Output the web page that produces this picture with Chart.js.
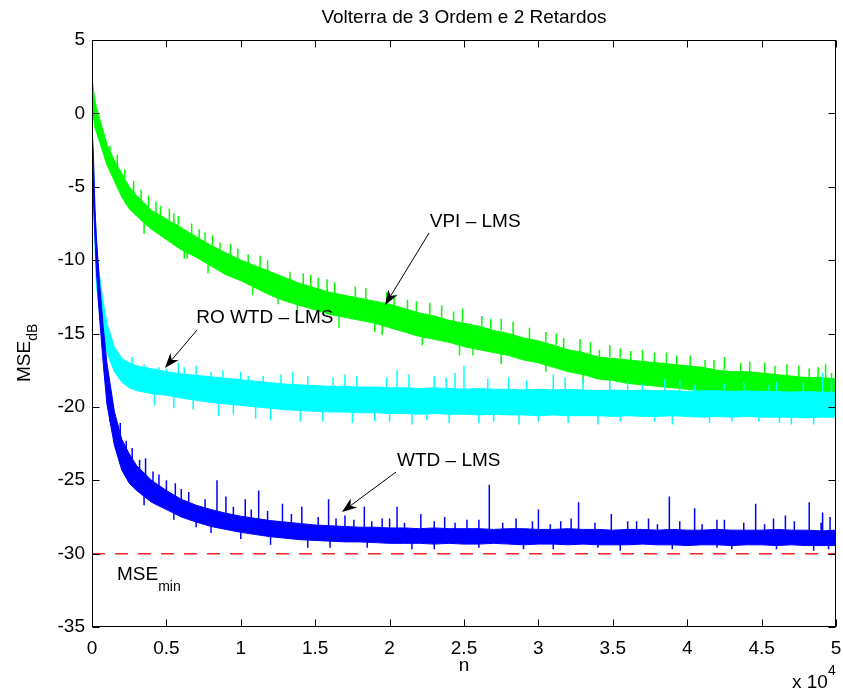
<!DOCTYPE html>
<html>
<head>
<meta charset="utf-8">
<script src="https://cdn.jsdelivr.net/npm/chart.js@4.4.1/dist/chart.umd.min.js"></script>
<style>
  html, body { margin: 0; padding: 0; background: #fff; }
  canvas { display: block; }
</style>
</head>
<body>
<canvas id="grafico" width="843" height="691"></canvas>
<script>
// n en unidades de 10^4
const nGrid = [
  0, 0.01, 0.02, 0.03, 0.05, 0.075, 0.1, 0.15, 0.2, 0.25,
  0.3, 0.4, 0.5, 0.6, 0.7, 0.8, 0.9, 1.0, 1.1, 1.2,
  1.3, 1.4, 1.5, 1.6, 1.7, 1.8, 1.9, 2.0, 2.1, 2.2,
  2.3, 2.4, 2.5, 2.6, 2.7, 2.8, 2.9, 3.0, 3.1, 3.2,
  3.3, 3.4, 3.5, 3.6, 3.7, 3.8, 3.9, 4.0, 4.1, 4.2,
  4.3, 4.4, 4.5, 4.6, 4.7, 4.8, 4.9, 5.0
];

// VPI - LMS (verde): borde superior / inferior del ruido
const greenHi = [
  2.4, 1.6, 0.9, 0.4, -0.3, -1.2, -2.1, -3.2, -4.1, -5.0,
  -5.6, -6.6, -7.2, -7.8, -8.4, -9.0, -9.5, -10.0, -10.4, -10.8,
  -11.2, -11.6, -11.9, -12.2, -12.4, -12.6, -12.8, -13.0, -13.3, -13.6,
  -13.8, -14.1, -14.3, -14.5, -14.8, -15.0, -15.3, -15.5, -15.8, -16.1,
  -16.3, -16.6, -16.7, -16.8, -16.9, -17.0, -17.1, -17.2, -17.3, -17.5,
  -17.6, -17.6, -17.7, -17.8, -17.9, -18.0, -18.0, -18.1
];
const greenLo = [
  0.5, -0.3, -1.0, -1.3, -1.9, -2.7, -3.5, -4.6, -5.7, -6.5,
  -7.0, -7.9, -8.6, -9.3, -9.8, -10.4, -11.0, -11.4, -11.9, -12.4,
  -12.8, -13.1, -13.4, -13.7, -13.9, -14.1, -14.3, -14.6, -14.9, -15.2,
  -15.4, -15.6, -15.9, -16.1, -16.3, -16.5, -16.8, -17.0, -17.3, -17.6,
  -17.8, -18.1, -18.2, -18.4, -18.5, -18.6, -18.7, -18.8, -18.9, -19.0,
  -19.1, -19.1, -19.2, -19.2, -19.3, -19.3, -19.4, -19.4
];

// RO WTD - LMS (cian)
const cyanHi = [
  -1.2, -3.5, -6.5, -9.3, -11.0, -12.8, -14.3, -15.9, -16.7, -17.0,
  -17.2, -17.4, -17.6, -17.75, -17.85, -17.95, -18.05, -18.15, -18.25, -18.35,
  -18.45, -18.5, -18.55, -18.6, -18.6, -18.65, -18.65, -18.7, -18.7, -18.75,
  -18.7, -18.75, -18.8, -18.75, -18.8, -18.8, -18.85, -18.8, -18.85, -18.8,
  -18.85, -18.9, -18.85, -18.9, -18.85, -18.9, -18.9, -18.95, -18.9, -18.9,
  -18.95, -18.9, -18.95, -18.95, -19.0, -18.95, -19.0, -19.0
];
const cyanLo = [
  -3.0, -6.0, -9.0, -11.8, -13.5, -15.2, -16.3, -17.6, -18.3, -18.7,
  -18.9, -19.1, -19.2, -19.4, -19.55, -19.7, -19.8, -19.9, -20.0, -20.1,
  -20.2, -20.25, -20.3, -20.35, -20.35, -20.4, -20.4, -20.45, -20.45, -20.5,
  -20.45, -20.5, -20.5, -20.55, -20.5, -20.55, -20.55, -20.6, -20.55, -20.6,
  -20.6, -20.6, -20.65, -20.6, -20.65, -20.65, -20.6, -20.65, -20.7, -20.65,
  -20.7, -20.65, -20.7, -20.7, -20.7, -20.75, -20.7, -20.7
];

// WTD - LMS (azul)
const blueHi = [
  -0.9, -3.0, -6.5, -8.5, -11.5, -14.5, -17.0, -20.3, -22.2, -23.2,
  -24.0, -25.0, -25.7, -26.3, -26.7, -27.0, -27.25, -27.45, -27.6, -27.75,
  -27.85, -27.95, -28.05, -28.1, -28.15, -28.2, -28.2, -28.25, -28.25, -28.3,
  -28.25, -28.3, -28.3, -28.3, -28.35, -28.3, -28.3, -28.35, -28.35, -28.3,
  -28.35, -28.35, -28.4, -28.35, -28.35, -28.4, -28.35, -28.4, -28.4, -28.35,
  -28.4, -28.4, -28.4, -28.35, -28.4, -28.4, -28.45, -28.4
];
const blueLo = [
  -3.0, -6.0, -8.5, -10.8, -13.8, -17.0, -19.8, -22.6, -24.3, -25.2,
  -25.7, -26.5, -27.0, -27.5, -27.85, -28.15, -28.35, -28.55, -28.7, -28.85,
  -28.95, -29.05, -29.1, -29.15, -29.2, -29.2, -29.25, -29.3, -29.3, -29.3,
  -29.35, -29.3, -29.35, -29.35, -29.3, -29.35, -29.4, -29.35, -29.35, -29.4,
  -29.35, -29.4, -29.4, -29.4, -29.35, -29.4, -29.4, -29.45, -29.4, -29.4,
  -29.45, -29.4, -29.4, -29.45, -29.4, -29.45, -29.45, -29.45
];

// picos sueltos del ruido (n, desde, hasta)
const greenSpikeN = [
  0.17, 0.33, 0.46, 0.55, 0.64, 0.72, 0.86, 1.05, 1.25, 1.33, 1.52, 1.77, 1.9, 2.12, 2.43, 2.56, 2.68, 2.94, 3.17, 3.41, 3.62, 3.93, 4.12, 4.36, 4.59, 4.82, 4.97,
  0.08, 0.12, 0.22, 0.28, 0.38, 0.43, 0.52, 0.58, 0.67, 0.76, 0.81, 0.93, 0.98, 1.13, 1.18, 1.42, 1.47, 1.58, 1.63, 1.84, 1.98, 2.03, 2.18, 2.27, 2.35, 2.49, 2.62, 2.75, 2.83, 3.05, 3.12, 3.28, 3.35, 3.48, 3.55, 3.7, 3.78, 3.86, 4.02, 4.18, 4.25, 4.42, 4.52, 4.67, 4.75, 4.88, 4.93,
  0.35, 0.62, 0.78, 1.08, 1.38, 1.66, 1.95, 2.22, 2.47, 2.75, 3.05, 3.3
];
const greenSpikeLo = [
  -4.8, -6.4, -7.4, -8.0, -9.9, -9.2, -10.0, -10.8, -13.0, -12.0, -12.5, -13.0, -14.9, -13.8, -14.7, -16.5, -15.2, -15.8, -16.5, -17.0, -17.3, -17.6, -17.8, -18.1, -18.3, -18.5, -18.6,
  -2.4, -3.2, -4.8, -5.6, -6.6, -6.9, -7.3, -7.8, -8.3, -8.9, -9.1, -9.8, -10.0, -10.6, -10.8, -11.7, -11.8, -12.2, -12.3, -12.7, -13.1, -13.1, -13.5, -13.7, -13.9, -14.2, -14.5, -14.8, -15.1, -15.6, -15.8, -16.3, -16.4, -16.6, -16.7, -16.9, -17.0, -17.1, -17.3, -17.5, -17.5, -17.7, -17.7, -17.9, -17.9, -18.0, -18.1,
  -8.2, -9.9, -10.9, -12.4, -13.7, -14.6, -15.1, -15.8, -16.5, -17.1, -17.6, -18.4
];
const greenSpikeHi = [
  -2.8, -5.2, -6.3, -6.8, -8.8, -7.9, -8.8, -9.6, -12.0, -10.8, -11.2, -11.8, -14.0, -12.7, -13.5, -15.6, -14.0, -14.6, -15.3, -16.1, -16.2, -16.5, -16.8, -17.0, -17.2, -17.4, -17.7,
  -1.4, -2.2, -3.8, -4.6, -5.6, -6.0, -6.5, -7.0, -7.5, -8.1, -8.3, -8.9, -9.2, -9.7, -10.0, -10.9, -11.0, -11.3, -11.5, -11.9, -12.2, -12.4, -12.8, -12.9, -13.1, -13.3, -13.8, -14.0, -14.2, -14.9, -15.0, -15.4, -15.6, -15.8, -16.0, -16.1, -16.3, -16.3, -16.5, -16.8, -16.6, -16.9, -17.0, -17.1, -17.2, -17.3, -17.1,
  -7.2, -9.0, -10.0, -11.5, -12.8, -13.8, -14.3, -15.0, -15.6, -16.2, -16.8, -17.6
];

const cyanSpikeN = [
  0.27, 0.45, 0.5, 0.55, 0.62, 0.8, 0.95, 1.05, 1.2, 1.35, 1.55, 1.7, 1.9, 2.05, 2.25, 2.3, 2.5, 2.6, 2.8, 3.0, 3.1, 3.3, 3.4, 3.6, 3.78, 3.85, 4.15, 4.25, 4.48, 4.6, 4.7, 4.91,
  0.35, 0.58, 0.7, 0.88, 1.0, 1.15, 1.27, 1.45, 1.62, 1.78, 1.98, 2.13, 2.38, 2.44, 2.66, 2.92, 3.18, 3.48, 3.7, 3.95, 4.05, 4.38, 4.55, 4.78, 4.97,
  0.42, 0.68, 0.85, 1.1, 1.4, 1.75, 2.0, 2.15, 2.4, 2.7, 2.87, 3.2, 3.55, 3.9, 4.3, 4.62, 4.85
];
const cyanSpikeLo = [
  -18.0, -18.6, -18.6, -20.1, -18.8, -19.0, -20.5, -19.2, -20.9, -19.4, -21.0, -19.5, -21.0, -19.6, -20.9, -19.6, -19.6, -21.1, -19.6, -21.0, -19.7, -19.7, -21.2, -19.7, -21.0, -19.7, -21.1, -19.8, -21.0, -19.8, -21.2, -19.8,
  -18.3, -18.5, -18.6, -18.8, -19.0, -19.1, -19.2, -19.3, -19.4, -19.4, -19.5, -19.5, -19.6, -19.6, -19.6, -19.7, -19.7, -19.8, -19.8, -19.8, -19.8, -19.8, -19.8, -19.8, -19.8,
  -19.9, -20.2, -20.6, -20.8, -21.0, -21.1, -21.0, -21.2, -21.1, -21.0, -21.2, -21.1, -21.0, -21.2, -21.0, -21.1, -21.2
];
const cyanSpikeHi = [
  -16.6, -17.3, -17.4, -18.8, -17.3, -17.6, -19.3, -17.9, -19.6, -17.6, -19.8, -17.8, -19.8, -17.5, -19.8, -17.9, -17.2, -19.9, -18.0, -19.9, -17.8, -18.1, -20.0, -18.3, -20.0, -18.1, -20.0, -18.4, -20.0, -18.3, -20.1, -17.7,
  -17.1, -17.0, -17.2, -17.5, -17.6, -17.9, -17.8, -17.9, -18.0, -17.9, -18.0, -17.8, -18.0, -17.7, -18.1, -18.2, -18.0, -18.2, -18.4, -18.2, -18.5, -18.3, -18.5, -18.3, -18.1,
  -18.8, -19.2, -19.5, -19.8, -20.0, -20.1, -20.2, -20.2, -20.2, -20.2, -20.3, -20.3, -20.3, -20.4, -20.4, -20.4, -20.4
];

const blueSpikeN = [
  0.19, 0.27, 0.36, 0.45, 0.56, 0.65, 0.7, 0.84, 0.9, 1.03, 1.12, 1.28, 1.41, 1.45, 1.59, 1.7, 1.83, 1.95, 2.05, 2.15, 2.21, 2.37, 2.52, 2.67, 2.85, 2.9, 3.0, 3.15, 3.27, 3.49, 3.55, 3.6, 3.74, 3.88, 4.05, 4.2, 4.3, 4.46, 4.58, 4.66, 4.82, 4.85, 4.91, 4.96,
  0.12, 0.23, 0.32, 0.41, 0.5, 0.6, 0.76, 0.95, 1.07, 1.18, 1.34, 1.52, 1.64, 1.76, 1.88, 2.0, 2.1, 2.3, 2.44, 2.6, 2.76, 2.96, 3.08, 3.22, 3.38, 3.66, 3.8, 3.95, 4.1, 4.25, 4.38, 4.52, 4.72, 4.9,
  0.35, 0.55, 0.8, 1.0, 1.2, 1.6, 1.85, 2.3, 2.6, 3.1, 3.4, 3.9, 4.2, 4.6, 4.95
];
const blueSpikeLo = [
  -23.5, -24.5, -25.5, -26.0, -26.5, -27.0, -28.2, -27.6, -27.8, -28.0, -28.2, -28.5, -28.6, -29.6, -28.6, -28.7, -28.7, -28.8, -28.8, -29.7, -28.8, -28.8, -28.8, -28.8, -28.8, -29.7, -28.8, -28.8, -28.8, -28.8, -29.8, -28.8, -28.8, -28.8, -28.8, -28.8, -29.7, -28.8, -28.8, -28.8, -28.8, -29.8, -28.8, -28.8,
  -21.0, -23.8, -24.8, -25.4, -26.0, -26.6, -27.2, -27.7, -27.9, -28.1, -28.3, -28.4, -28.5, -28.5, -28.6, -28.6, -28.6, -28.6, -28.6, -28.6, -28.6, -28.7, -28.7, -28.7, -28.7, -28.7, -28.7, -28.7, -28.7, -28.7, -28.7, -28.7, -28.7, -28.7,
  -26.7, -27.7, -28.6, -29.0, -29.4, -29.6, -29.6, -29.7, -29.6, -29.7, -29.6, -29.7, -29.6, -29.7, -29.7
];
const blueSpikeHi = [
  -21.1, -22.8, -23.5, -24.6, -25.2, -25.8, -27.0, -25.0, -26.1, -26.3, -25.7, -26.6, -26.8, -28.6, -26.3, -27.4, -26.8, -27.6, -26.8, -28.8, -27.3, -27.5, -27.7, -25.3, -27.6, -28.8, -27.0, -27.8, -26.5, -27.3, -28.9, -27.8, -27.6, -26.1, -26.9, -27.7, -28.9, -26.6, -27.6, -27.4, -26.5, -28.9, -27.2, -27.5,
  -19.2, -22.3, -23.6, -24.4, -25.0, -25.6, -26.3, -26.8, -27.0, -27.1, -27.3, -27.5, -27.6, -27.7, -27.8, -27.6, -27.9, -27.8, -27.9, -27.7, -27.9, -27.8, -28.0, -27.6, -27.9, -27.8, -28.0, -27.8, -28.0, -27.7, -27.9, -28.0, -27.8, -27.9,
  -25.8, -26.8, -27.8, -28.3, -28.7, -28.9, -29.0, -29.0, -29.0, -29.1, -29.0, -29.1, -29.1, -29.1, -29.2
];

const mseMin = -30;
const xTicks = [0, 0.5, 1, 1.5, 2, 2.5, 3, 3.5, 4, 4.5, 5];
const yTicks = [-35, -30, -25, -20, -15, -10, -5, 0, 5];

const fuente = '"Liberation Sans", Arial, Helvetica, sans-serif';

// ===============================
// Helpers
// ===============================
const puntos = (xs, ys) => xs.map((x, i) => ({ x, y: ys[i] }));

function picos(xs, lo, hi) {
  const pts = [];
  xs.forEach((x, i) => {
    pts.push({ x, y: lo[i] }, { x, y: hi[i] }, { x, y: null });
  });
  return pts;
}

function banda(lo, hi, color, orden) {
  return [
    { data: puntos(nGrid, lo), borderColor: color, borderWidth: 1, fill: false, order: orden },
    { data: puntos(nGrid, hi), borderColor: color, backgroundColor: color, borderWidth: 1, fill: '-1', order: orden }
  ];
}

function linea(pts, color, orden) {
  return { data: pts, borderColor: color, borderWidth: 1.5, fill: false, spanGaps: false, order: orden };
}

// ===============================
// Anotaciones y decorado estilo MATLAB
// ===============================
const notas = [
  { texto: 'VPI \u2013 LMS', n: 2.27, v: -7.4, desde: [2.265, -8.15], hasta: [1.97, -13.06] },
  { texto: 'RO WTD \u2013 LMS', n: 0.70, v: -13.94, desde: [0.706, -14.76], hasta: [0.49, -17.35] },
  { texto: 'WTD \u2013 LMS', n: 2.05, v: -23.69, desde: [2.043, -24.44], hasta: [1.68, -27.16] }
];

function flecha(ctx, x1, y1, x2, y2) {
  const dx = x1 - x2, dy = y1 - y2;
  const len = Math.hypot(dx, dy);
  const ux = dx / len, uy = dy / len;
  const px = -uy, py = ux;
  const L = 15, W = 5.5;
  ctx.beginPath();
  ctx.moveTo(x1, y1);
  ctx.lineTo(x2 + ux * L * 0.7, y2 + uy * L * 0.7);
  ctx.stroke();
  ctx.beginPath();
  ctx.moveTo(x2, y2);
  ctx.lineTo(x2 + ux * L + px * W, y2 + uy * L + py * W);
  ctx.lineTo(x2 + ux * L * 0.7, y2 + uy * L * 0.7);
  ctx.lineTo(x2 + ux * L - px * W, y2 + uy * L - py * W);
  ctx.closePath();
  ctx.fill();
}

const decorado = {
  id: 'decorado',
  afterDraw(chart) {
    const { ctx, chartArea: a, scales: { x, y } } = chart;
    ctx.save();
    ctx.strokeStyle = '#000';
    ctx.fillStyle = '#000';
    ctx.lineWidth = 1;

    // caja
    const L = Math.round(a.left) + 0.5, R = Math.round(a.right) - 0.5;
    const T = Math.round(a.top) + 0.5, B = Math.round(a.bottom) - 0.5;
    ctx.strokeRect(L, T, R - L, B - T);

    // marcas hacia dentro
    ctx.beginPath();
    xTicks.forEach(t => {
      const px = Math.round(x.getPixelForValue(t)) + 0.5;
      ctx.moveTo(px, B); ctx.lineTo(px, B - 7);
      ctx.moveTo(px, T); ctx.lineTo(px, T + 7);
    });
    yTicks.forEach(t => {
      const py = Math.round(y.getPixelForValue(t)) + 0.5;
      ctx.moveTo(L, py); ctx.lineTo(L + 7, py);
      ctx.moveTo(R, py); ctx.lineTo(R - 7, py);
    });
    ctx.stroke();

    // titulo
    ctx.font = '19px ' + fuente;
    ctx.textAlign = 'center';
    ctx.textBaseline = 'alphabetic';
    ctx.fillText('Volterra de 3 Ordem e 2 Retardos', (a.left + a.right) / 2, 23);

    // eje x
    ctx.fillText('n', x.getPixelForValue(2.5), 671);
    ctx.textAlign = 'left';
    ctx.fillText('x 10', 792, 688);
    const w10 = ctx.measureText('x 10').width;
    ctx.font = '14px ' + fuente;
    ctx.fillText('4', 792 + w10, 675);

    // eje y
    ctx.save();
    ctx.translate(30, 382);
    ctx.rotate(-Math.PI / 2);
    ctx.font = '19px ' + fuente;
    ctx.fillText('MSE', 0, 0);
    const wMse = ctx.measureText('MSE').width;
    ctx.font = '14px ' + fuente;
    ctx.fillText('dB', wMse, 7);
    ctx.restore();

    // anotaciones
    ctx.font = '19px ' + fuente;
    ctx.textBaseline = 'middle';
    notas.forEach(nt => {
      ctx.fillText(nt.texto, x.getPixelForValue(nt.n), y.getPixelForValue(nt.v));
      flecha(ctx,
        x.getPixelForValue(nt.desde[0]), y.getPixelForValue(nt.desde[1]),
        x.getPixelForValue(nt.hasta[0]), y.getPixelForValue(nt.hasta[1]));
    });

    // MSE min
    ctx.textBaseline = 'alphabetic';
    const mx = x.getPixelForValue(0.168), my = y.getPixelForValue(-31.8);
    ctx.fillText('MSE', mx, my);
    const wM = ctx.measureText('MSE').width;
    ctx.font = '14px ' + fuente;
    ctx.fillText('min', mx + wM, my + 11);

    ctx.restore();
  }
};

// ===============================
// Grafico
// ===============================
const datasets = [
  { data: [{ x: 0, y: mseMin }, { x: 5, y: mseMin }], borderColor: 'rgb(240,40,40)', borderWidth: 1.5, borderDash: [13, 10], fill: false, order: 1 },
  ...banda(blueLo, blueHi, 'rgb(0,0,255)', 2),
  linea(picos(blueSpikeN, blueSpikeLo, blueSpikeHi), 'rgb(0,0,255)', 2),
  ...banda(cyanLo, cyanHi, 'rgb(0,255,255)', 3),
  linea(picos(cyanSpikeN, cyanSpikeLo, cyanSpikeHi), 'rgb(0,255,255)', 3),
  ...banda(greenLo, greenHi, 'rgb(0,255,0)', 4),
  linea(picos(greenSpikeN, greenSpikeLo, greenSpikeHi), 'rgb(0,255,0)', 4)
];

new Chart(document.getElementById('grafico'), {
  type: 'line',
  data: { datasets },
  options: {
    responsive: false,
    devicePixelRatio: 1,
    animation: false,
    events: [],
    layout: { padding: { left: 0, top: 40, right: 7, bottom: 0 } },
    elements: { point: { radius: 0 }, line: { tension: 0 } },
    plugins: { legend: { display: false }, tooltip: { enabled: false }, title: { display: false } },
    scales: {
      x: {
        type: 'linear', min: 0, max: 5, offset: false,
        afterFit(s) { s.height = 64; s.paddingLeft = 0; s.paddingRight = 0; },
        grid: { display: false, drawTicks: false },
        border: { display: false },
        ticks: {
          stepSize: 0.5, autoSkip: false, maxRotation: 0, padding: 10,
          color: '#000', font: { family: fuente, size: 19 },
          callback: v => String(v)
        }
      },
      y: {
        type: 'linear', min: -35, max: 5,
        afterFit(s) { s.width = 92; s.paddingTop = 0; s.paddingBottom = 0; },
        grid: { display: false, drawTicks: false },
        border: { display: false },
        ticks: {
          stepSize: 5, padding: 7,
          color: '#000', font: { family: fuente, size: 19 },
          callback: v => String(v)
        }
      }
    }
  },
  plugins: [decorado]
});
</script>
</body>
</html>
